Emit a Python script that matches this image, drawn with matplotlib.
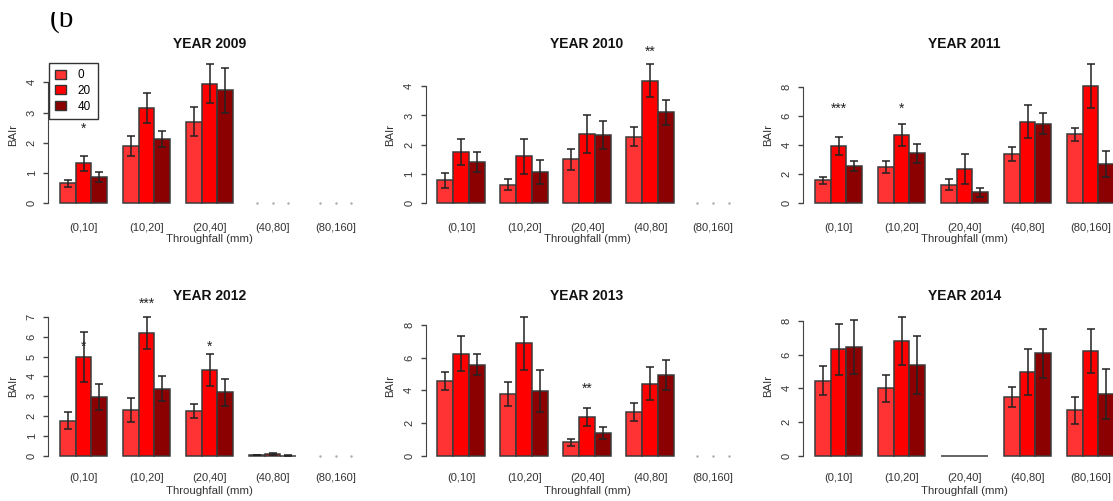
import numpy as np
import matplotlib
matplotlib.use("Agg")
import matplotlib.pyplot as plt
from matplotlib.patches import Patch, Rectangle
from matplotlib import transforms

plt.rcParams['font.family'] = ['Liberation Sans', 'DejaVu Sans']

nan = np.nan

# basal area increment (BAIr) per throughfall class, one row per class,
# columns = exclusion treatment 0 / 20 / 40 %
years = [2009, 2010, 2011, 2012, 2013, 2014]
classes = ['(0,10]', '(10,20]', '(20,40]', '(40,80]', '(80,160]']
treatments = ['0', '20', '40']

bai_2009 = [[0.66, 1.32, 0.86], [1.89, 3.14, 2.12], [2.70, 3.95, 3.73], [nan, nan, nan], [nan, nan, nan]]
se_2009 = [[0.11, 0.26, 0.17], [0.32, 0.50, 0.27], [0.49, 0.64, 0.73], [0, 0, 0], [0, 0, 0]]

bai_2010 = [[0.78, 1.75, 1.41], [0.64, 1.60, 1.06], [1.50, 2.36, 2.33], [2.27, 4.19, 3.10], [nan, nan, nan]]
se_2010 = [[0.26, 0.45, 0.35], [0.20, 0.60, 0.41], [0.36, 0.65, 0.48], [0.32, 0.56, 0.43], [0, 0, 0]]

bai_2011 = [[1.58, 3.93, 2.56], [2.49, 4.71, 3.43], [1.28, 2.33, 0.75], [3.40, 5.60, 5.46], [4.73, 8.07, 2.70]]
se_2011 = [[0.25, 0.60, 0.37], [0.44, 0.75, 0.64], [0.39, 1.03, 0.32], [0.48, 1.12, 0.73], [0.46, 1.50, 0.91]]

bai_2012 = [[1.78, 4.97, 2.96], [2.31, 6.18, 3.38], [2.24, 4.32, 3.20], [0.05, 0.10, 0.02], [nan, nan, nan]]
se_2012 = [[0.44, 1.25, 0.67], [0.58, 0.80, 0.64], [0.35, 0.82, 0.67], [0.02, 0.03, 0.01], [0, 0, 0]]

bai_2013 = [[4.58, 6.25, 5.56], [3.79, 6.86, 3.97], [0.84, 2.40, 1.41], [2.67, 4.40, 4.95], [nan, nan, nan]]
se_2013 = [[0.57, 1.04, 0.63], [0.75, 1.63, 1.28], [0.22, 0.55, 0.37], [0.55, 1.00, 0.90], [0, 0, 0]]

bai_2014 = [[4.45, 6.33, 6.44], [4.00, 6.78, 5.38], [0.0, 0.0, 0.0], [3.49, 4.95, 6.07], [2.70, 6.23, 3.68]]
se_2014 = [[0.87, 1.51, 1.60], [0.79, 1.42, 1.71], [0.0, 0.0, 0.0], [0.59, 1.36, 1.46], [0.79, 1.30, 1.48]]

bai = [bai_2009, bai_2010, bai_2011, bai_2012, bai_2013, bai_2014]
se = [se_2009, se_2010, se_2011, se_2012, se_2013, se_2014]

# y axis: (last tick, tick step)
yticks_max = [4, 4, 8, 7, 8, 8]
yticks_step = [1, 1, 2, 1, 2, 2]

# significance marks: (year index, class index, label, height)
stars = [(0, 0, '*', 2.47),
         (1, 3, '**', 5.17),
         (2, 0, '***', 6.5), (2, 1, '*', 6.5),
         (3, 0, '*', 5.5), (3, 1, '***', 7.67), (3, 2, '*', 5.5),
         (4, 2, '**', 4.07)]

colors = ['#ff3333', '#ff0000', '#8b0000']

# layout in pixels
W, H = 1113, 501
unit = 15.75
col_left = [48, 425.5, 803]
row_zero = [203.3, 456.0]
row_top = [50, 300]
row_bottom = [211.3, 464.0]
row_ticklab = [227.7, 478.3]
row_xlab = [239.5, 490.7]
row_ylab = [135, 386]
row_title = [44, 296]
px_per_unit = [30.25, 29.3, 14.58, 19.9, 16.4, 16.9]

fig = plt.figure(figsize=(W / 100, H / 100), dpi=100)

for i, year in enumerate(years):
    r, c = divmod(i, 3)
    L = col_left[c]
    width_px = 20.52 * unit
    ax = fig.add_axes([L / W, 1 - row_bottom[r] / H, width_px / W,
                       (row_bottom[r] - row_top[r]) / H])
    s = px_per_unit[i]
    ax.set_xlim(0.24, 20.76)
    ax.set_ylim(-(row_bottom[r] - row_zero[r]) / s, (row_zero[r] - row_top[r]) / s)

    vals = np.array(bai[i], dtype=float)
    errs = np.array(se[i], dtype=float)
    for g in range(len(classes)):
        for k in range(3):
            x = 1.5 + 4 * g + k
            v = vals[g, k]
            if np.isnan(v):
                # empty class: only a faint mark at zero
                ax.plot(x, 0, '.', color='#aaaaaa', ms=1.5, clip_on=False)
                continue
            ax.bar(x, v, width=1, color=colors[k], edgecolor='#3a3a3a', linewidth=1.1)
            if errs[g, k] > 0:
                ax.errorbar(x, v, yerr=errs[g, k], fmt='none', ecolor='#222222',
                            elinewidth=1.1, capsize=3, capthick=1.1, clip_on=False)

    # axis styling, R-like: only the y axis line between first and last tick
    for sp in ['top', 'right', 'bottom']:
        ax.spines[sp].set_visible(False)
    ax.spines['left'].set_bounds(0, yticks_max[i])
    ax.spines['left'].set_color('#444444')
    ticks = np.arange(0, yticks_max[i] + 0.01, yticks_step[i])
    ax.set_yticks(ticks)
    ax.set_yticklabels([str(int(t)) for t in ticks])
    ax.tick_params(axis='y', length=3.6, width=1.0, color='#444444', pad=4.5,
                   labelsize=8, labelrotation=90, labelcolor='#333333')
    for lab in ax.get_yticklabels():
        lab.set_va('center')
    ax.set_xticks([])

    trans = transforms.blended_transform_factory(ax.transData, fig.transFigure)
    for g, cl in enumerate(classes):
        ax.text(2.5 + 4 * g, 1 - row_ticklab[r] / H, cl, transform=trans,
                ha='center', va='center', fontsize=8, color='#333333', clip_on=False)

    xc = L + width_px / 2
    fig.text(xc / W, 1 - row_title[r] / H, 'YEAR %d' % year, ha='center', va='center',
             fontsize=10, fontweight='bold', color='#111111')
    fig.text(xc / W, 1 - row_xlab[r] / H, 'Throughfall (mm)', ha='center', va='center',
             fontsize=8.2, color='#333333')
    fig.text((L - 35) / W, 1 - row_ylab[r] / H, 'BAIr', ha='center', va='center',
             rotation=90, fontsize=8.2, color='#333333')

    for yi, g, lab, h in stars:
        if yi == i:
            ax.text(2.5 + 4 * g, h, lab, ha='center', va='center', fontsize=10,
                    color='#222222', clip_on=False)

    if i == 0:
        handles = [Patch(facecolor=col, edgecolor='#333333', linewidth=1) for col in colors]
        leg = ax.legend(handles, treatments, loc='upper left',
                        bbox_to_anchor=(49 / W, 1 - 63 / H), bbox_transform=fig.transFigure,
                        fancybox=False, edgecolor='#333333', framealpha=1, fontsize=8.5,
                        handlelength=0.9, handleheight=0.8, handletextpad=1.0,
                        borderpad=0.55, labelspacing=0.3, borderaxespad=0)
        leg.get_frame().set_linewidth(1.0)

# panel letter, top part cut off by the page edge
fig.text(50 / W, 1 - 26.5 / H, '(b', fontsize=21, family='Liberation Serif',
         ha='left', va='baseline', color='black')
fig.patches.append(Rectangle((0, 1 - 12 / H), 0.2, 12 / H, transform=fig.transFigure,
                             facecolor='white', edgecolor='none', zorder=10))

fig.savefig('out.png', dpi=100)
